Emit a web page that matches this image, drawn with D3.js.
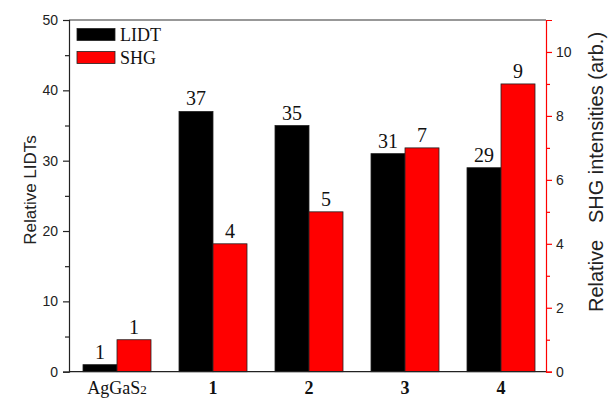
<!DOCTYPE html>
<html>
<head>
<meta charset="utf-8">
<script src="https://cdn.jsdelivr.net/npm/d3@7"></script>
<style>
  html, body { margin: 0; padding: 0; background: #fff; }
  svg { display: block; }
</style>
</head>
<body>
<svg id="chart" width="608" height="400"></svg>
<script>
// Samples and measured values
const categories = ["AgGaS2", "1", "2", "3", "4"];
const lidtValues = [1, 37, 35, 31, 29];
const shgValues = [1, 4, 5, 7, 9];
const seriesNames = ["LIDT", "SHG"];
const seriesColors = ["#000000", "#ff0000"];
const leftMajorTicks = [0, 10, 20, 30, 40, 50];
const leftMinorTicks = [5, 15, 25, 35, 45];
const rightMajorTicks = [0, 2, 4, 6, 8, 10];
const rightMinorTicks = [1, 3, 5, 7, 9];

const svg = d3.select("#chart");
const plot = { left: 69, right: 546, top: 20, bottom: 371.7 };

const x = d3.scaleBand().domain(categories).range([plot.left, plot.left + 480]);
const inner = d3.scaleBand().domain(seriesNames).range([-34, 34]);
const yL = d3.scaleLinear().domain([0, 50]).range([plot.bottom, plot.top]);
const yR = d3.scaleLinear().domain([0, 11]).range([plot.bottom, plot.top]);

const sans = "'Liberation Sans', Arial, sans-serif";
const serif = "'Liberation Serif', 'Times New Roman', serif";

// Bars with value labels
const rows = categories.map((c, i) => ({ cat: c, LIDT: lidtValues[i], SHG: shgValues[i] }));
const scaleFor = { LIDT: yL, SHG: yR };

seriesNames.forEach((s, si) => {
  const g = svg.append("g");
  g.selectAll("rect").data(rows).join("rect")
    .attr("x", d => x(d.cat) + x.bandwidth() / 2 + inner(s))
    .attr("y", d => scaleFor[s](d[s]))
    .attr("width", inner.bandwidth())
    .attr("height", d => plot.bottom - scaleFor[s](d[s]))
    .attr("fill", seriesColors[si])
    .attr("stroke", "#222")
    .attr("stroke-width", 0.8);
  g.selectAll("text").data(rows).join("text")
    .attr("x", d => x(d.cat) + x.bandwidth() / 2 + inner(s) + inner.bandwidth() / 2)
    .attr("y", d => scaleFor[s](d[s]) - 6)
    .attr("text-anchor", "middle")
    .attr("font-family", serif)
    .attr("font-size", 20)
    .attr("fill", "#111")
    .text(d => d[s]);
});

// Frame: top border and baseline
svg.append("line").attr("x1", plot.left).attr("x2", plot.right)
  .attr("y1", plot.top).attr("y2", plot.top).attr("stroke", "#333").attr("stroke-width", 1.2);
svg.append("line").attr("x1", plot.left).attr("x2", plot.right)
  .attr("y1", plot.bottom).attr("y2", plot.bottom).attr("stroke", "#222").attr("stroke-width", 1.2);

// Left axis
const leftAxis = svg.append("g").attr("transform", `translate(${plot.left},0)`)
  .call(d3.axisLeft(yL).tickValues(leftMajorTicks).tickSize(6).tickPadding(5));
const leftMinor = svg.append("g").attr("transform", `translate(${plot.left},0)`)
  .call(d3.axisLeft(yL).tickValues(leftMinorTicks).tickSize(4).tickFormat(""));
leftMinor.select(".domain").remove();
[leftAxis, leftMinor].forEach(g => {
  g.selectAll(".domain, line").attr("stroke", "#222").attr("stroke-width", 1.2);
});
leftAxis.selectAll("text").attr("font-family", sans).attr("font-size", 14).attr("fill", "#222");

// Right axis (red)
const rightAxis = svg.append("g").attr("transform", `translate(${plot.right},0)`)
  .call(d3.axisRight(yR).tickValues(rightMajorTicks).tickSize(6).tickPadding(4));
const rightMinor = svg.append("g").attr("transform", `translate(${plot.right},0)`)
  .call(d3.axisRight(yR).tickValues(rightMinorTicks).tickSize(4).tickFormat(""));
rightMinor.select(".domain").remove();
[rightAxis, rightMinor].forEach(g => {
  g.selectAll(".domain, line").attr("stroke", "#ff0000").attr("stroke-width", 1.2);
});
rightAxis.selectAll("text").attr("font-family", sans).attr("font-size", 14).attr("fill", "#222");

// Category axis labels
const bottomAxis = svg.append("g").attr("transform", `translate(0,${plot.bottom})`)
  .call(d3.axisBottom(x).tickSize(0).tickPadding(10));
bottomAxis.select(".domain").remove();
bottomAxis.selectAll("text")
  .attr("font-family", serif)
  .attr("font-size", 18)
  .attr("fill", "#111")
  .attr("dy", "0.71em")
  .each(function (d) {
    const t = d3.select(this);
    if (d === "AgGaS2") {
      t.text(null);
      t.append("tspan").text("AgGaS");
      t.append("tspan").attr("font-size", 13).text("2");
    } else {
      t.attr("font-weight", "bold");
    }
  });

// Axis titles
svg.append("text")
  .attr("transform", "translate(36,190) rotate(-90)")
  .attr("text-anchor", "middle")
  .attr("font-family", sans).attr("font-size", 17).attr("fill", "#222")
  .text("Relative LIDTs");
svg.append("text")
  .attr("transform", "translate(603,172) rotate(-90)")
  .attr("text-anchor", "middle")
  .attr("font-family", sans).attr("font-size", 20).attr("fill", "#222")
  .style("white-space", "pre")
  .text("Relative   SHG intensities (arb.)");

// Legend
const legend = svg.append("g");
seriesNames.forEach((s, i) => {
  legend.append("rect")
    .attr("x", 77).attr("y", 28.5 + i * 23)
    .attr("width", 38).attr("height", 12)
    .attr("fill", seriesColors[i]).attr("stroke", "#222").attr("stroke-width", 0.8);
  legend.append("text")
    .attr("x", 120).attr("y", 41 + i * 23)
    .attr("font-family", serif).attr("font-size", 18).attr("fill", "#111")
    .text(s);
});
</script>
</body>
</html>
